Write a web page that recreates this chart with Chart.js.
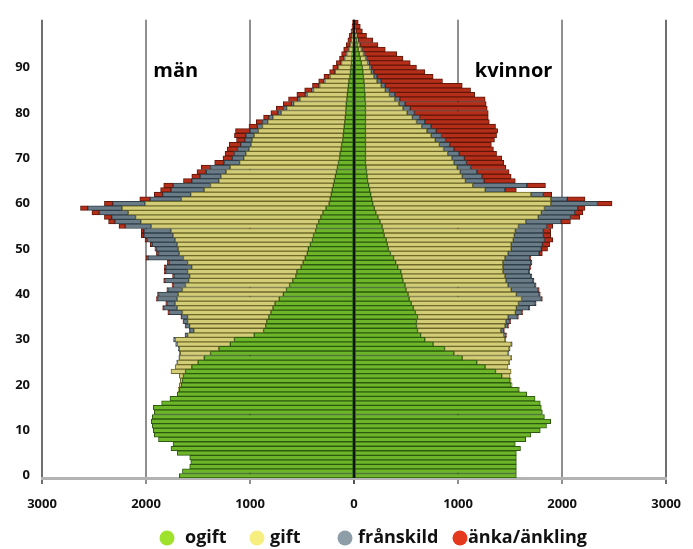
<!DOCTYPE html>
<html>
<head>
<meta charset="utf-8">
<script src="https://cdn.jsdelivr.net/npm/chart.js@4/dist/chart.umd.min.js"></script>
<style>
html,body{margin:0;padding:0;background:#ffffff;}
#wrap{width:693px;height:549px;position:relative;}
</style>
</head>
<body>
<div id="wrap"><canvas id="c" width="693" height="549"></canvas></div>
<script>
// ---- data (persons), index = age 0..100 ----
const ages = Array.from({length: 101}, (_, i) => String(i));
const yTickLabels = ['0','10','20','30','40','50','60','70','80','90'];
const xTickValues = [-3000,-2000,-1000,0,1000,2000,3000];
const seriesNames = ['ogift','gift','frånskild','änka/änkling'];

const menOgift = [
1680,1650,1580,1570,1580,1700,1760,1740,1880,1920,
1930,1940,1950,1940,1920,1930,1850,1770,1700,1680,
1660,1650,1640,1620,1560,1500,1440,1380,1300,1190,
1150,960,870,850,840,820,800,780,760,720,
680,650,620,590,560,550,510,490,470,450,
440,420,400,390,370,360,340,320,300,270,
240,230,220,210,200,190,180,170,160,150,
140,135,125,120,110,105,100,95,90,85,
80,78,75,70,65,60,55,50,40,35,
30,25,20,18,15,10,8,6,4,3,2];
const menGift = [
0,0,0,0,0,0,0,0,0,0,
0,0,0,0,0,0,0,0,0,10,
20,20,40,140,160,200,240,290,380,510,
570,640,670,730,760,780,850,920,960,980,
1010,1000,1000,1000,1020,1050,1050,1110,1170,1230,
1250,1280,1320,1350,1390,1590,1710,1780,1870,1960,
1770,1430,1350,1230,1180,1110,1100,1060,1030,950,
920,905,885,870,870,855,820,785,740,695,
620,570,505,450,385,330,275,230,190,145,
120,95,70,52,35,25,17,9,6,3,2];
const menFranskild = [
0,0,0,0,0,0,0,0,0,0,
0,0,0,0,0,0,0,0,0,0,
0,0,0,0,0,5,5,10,10,15,
15,20,40,40,40,60,130,130,80,190,
190,140,120,230,150,210,250,180,340,200,
210,240,270,280,260,250,250,230,280,330,
310,300,270,320,360,260,200,190,190,150,
110,110,110,100,70,80,80,50,50,40,
30,30,20,20,20,15,10,10,10,5,
5,5,5,2,2,2,1,1,1,1,1];
const menAnkling = [
0,0,0,0,0,0,0,0,0,0,
0,0,0,0,0,0,0,0,0,0,
0,0,0,0,0,0,0,0,0,0,
0,5,5,5,5,5,10,10,10,10,
10,10,10,10,15,15,15,15,20,20,
15,20,20,25,25,60,60,70,70,70,
80,100,80,100,90,80,80,90,90,90,
90,90,100,110,80,110,140,80,60,50,
70,70,80,90,80,70,60,50,50,50,
50,45,45,48,48,38,34,29,19,13,10];

const womenOgift = [
1560,1560,1560,1560,1560,1560,1600,1550,1650,1700,
1790,1850,1890,1830,1810,1800,1790,1740,1660,1580,
1510,1500,1420,1360,1260,1180,1040,960,870,760,
680,640,610,600,600,610,590,570,550,530,
520,500,490,470,460,450,420,400,380,350,
330,320,310,290,280,270,250,230,210,195,
180,170,160,150,140,130,125,120,115,110,
110,110,110,110,110,110,110,110,110,110,
110,110,110,105,105,100,100,95,90,85,
80,70,60,50,40,30,25,18,12,8,5];
const womenGift = [
0,0,0,0,0,0,0,0,0,0,
0,0,0,0,0,0,0,0,0,10,
10,10,80,150,220,310,470,520,620,750,
770,800,800,850,860,870,960,990,1030,1080,
1040,1010,990,990,990,980,1010,1030,1070,1130,
1180,1190,1220,1250,1270,1310,1400,1540,1590,1635,
1710,1720,1540,1110,1000,940,915,900,875,850,
830,790,750,710,670,630,590,540,490,450,
400,360,320,285,235,200,160,125,100,80,
70,60,50,40,30,20,10,7,4,2,1];
const womenFranskild = [
0,0,0,0,0,0,0,0,0,0,
0,0,0,0,0,0,0,0,0,0,
0,0,0,0,0,5,5,10,10,10,
10,20,30,30,40,90,60,120,160,190,
220,260,260,260,250,250,260,270,240,300,
290,300,300,280,270,270,340,310,320,320,
450,160,120,190,520,180,190,160,130,120,
120,110,100,100,100,100,90,90,80,70,
70,70,60,50,50,40,40,40,30,25,
20,15,10,10,10,8,5,3,2,1,1];
const womenAnka = [
0,0,0,0,0,0,0,0,0,0,
0,0,0,0,0,0,0,0,0,0,
0,0,0,0,0,0,0,0,0,0,
0,5,5,5,5,10,10,10,10,10,
10,10,10,10,10,10,10,10,10,30,
60,70,80,70,70,60,90,90,80,70,
140,170,80,110,180,300,280,310,340,360,
360,360,380,400,470,530,590,620,620,660,
710,740,780,820,770,780,740,590,540,490,
430,395,350,310,220,172,140,92,62,49,33];

// ---- styles ----
const barFill   = ['#6db62a', '#d4cd78', '#687b87', '#b52e1a'];
const barBorder = ['#2c5a0e', '#6e6a2a', '#2f3e48', '#621709'];
const legendDot = ['#9fe22b', '#f6ef80', '#8d9ea8', '#e6381c'];
const FONT = '"Open Sans", "DejaVu Sans", sans-serif';

function ds(label, values, k, sign) {
  return {
    label: label,
    data: values.map(v => sign * v),
    backgroundColor: barFill[k],
    borderColor: barBorder[k],
    borderWidth: 1,
    borderSkipped: false,
    barPercentage: 1.0,
    categoryPercentage: 1.0
  };
}

const datasets = [
  ds('män ogift', menOgift, 0, -1),
  ds('män gift', menGift, 1, -1),
  ds('män frånskild', menFranskild, 2, -1),
  ds('män änkling', menAnkling, 3, -1),
  ds('kvinnor ogift', womenOgift, 0, 1),
  ds('kvinnor gift', womenGift, 1, 1),
  ds('kvinnor frånskild', womenFranskild, 2, 1),
  ds('kvinnor änka', womenAnka, 3, 1)
];

const overlayPlugin = {
  id: 'overlay',
  afterDatasetsDraw(chart) {
    const {ctx, chartArea, scales} = chart;
    const px = scales.x.getPixelForValue(0);
    ctx.save();
    ctx.strokeStyle = '#111';
    ctx.lineWidth = 2;
    ctx.beginPath();
    ctx.moveTo(px, chartArea.top);
    ctx.lineTo(px, chartArea.bottom);
    ctx.stroke();
    // sex labels
    ctx.fillStyle = '#000';
    ctx.font = 'bold 20px ' + FONT;
    ctx.textBaseline = 'alphabetic';
    ctx.textAlign = 'left';
    const yl = scales.y.getPixelForValue(87.8);
    ctx.fillText('män', scales.x.getPixelForValue(-1930), yl);
    ctx.fillText('kvinnor', scales.x.getPixelForValue(1160), yl);
    ctx.restore();
  },
  afterDraw(chart) {
    const {ctx} = chart;
    const dotX = [167, 257, 345, 460];
    const textX = [185, 270, 358, 468];
    const yc = 538;
    ctx.save();
    ctx.font = 'bold 18px ' + FONT;
    ctx.textBaseline = 'middle';
    ctx.textAlign = 'left';
    seriesNames.forEach((name, i) => {
      ctx.fillStyle = legendDot[i];
      ctx.beginPath();
      ctx.arc(dotX[i], yc, 7.5, 0, Math.PI * 2);
      ctx.fill();
      ctx.fillStyle = '#111';
      ctx.fillText(name, textX[i], yc);
    });
    ctx.restore();
  }
};

new Chart(document.getElementById('c'), {
  type: 'bar',
  data: { labels: ages, datasets: datasets },
  plugins: [overlayPlugin],
  options: {
    indexAxis: 'y',
    responsive: false,
    animation: false,
    layout: { padding: { top: 15, right: 21, bottom: 41, left: 0 } },
    plugins: { legend: { display: false }, tooltip: { enabled: false } },
    scales: {
      x: {
        type: 'linear',
        stacked: true,
        min: -3000, max: 3000,
        afterBuildTicks: (s) => { s.ticks = xTickValues.map(v => ({value: v})); },
        afterFit: (s) => { s.height = 30; },
        ticks: {
          callback: (v) => String(Math.abs(v)),
          font: { family: FONT, size: 13, weight: 'bold' },
          color: '#111',
          padding: 12,
          maxRotation: 0
        },
        grid: {
          color: (c) => (c.tick && Math.abs(c.tick.value) === 3000) ? '#6f6f6f' : (c.tick && c.tick.value === 0 ? '#555' : '#8f8f8f'),
          lineWidth: 2,
          tickLength: 6,
          drawTicks: true
        },
        border: { display: true, color: '#b3b3b3', width: 3 }
      },
      y: {
        type: 'category',
        stacked: true,
        reverse: true,
        offset: true,
        afterFit: (s) => { s.width = 42; },
        ticks: {
          autoSkip: false,
          callback: function(val, idx) {
            const lab = this.getLabelForValue(val);
            return yTickLabels.includes(lab) ? lab : '';
          },
          font: { family: FONT, size: 13, weight: 'bold' },
          color: '#111',
          padding: 12
        },
        grid: { display: false, drawTicks: false },
        border: { display: false }
      }
    }
  }
});
</script>
</body>
</html>
